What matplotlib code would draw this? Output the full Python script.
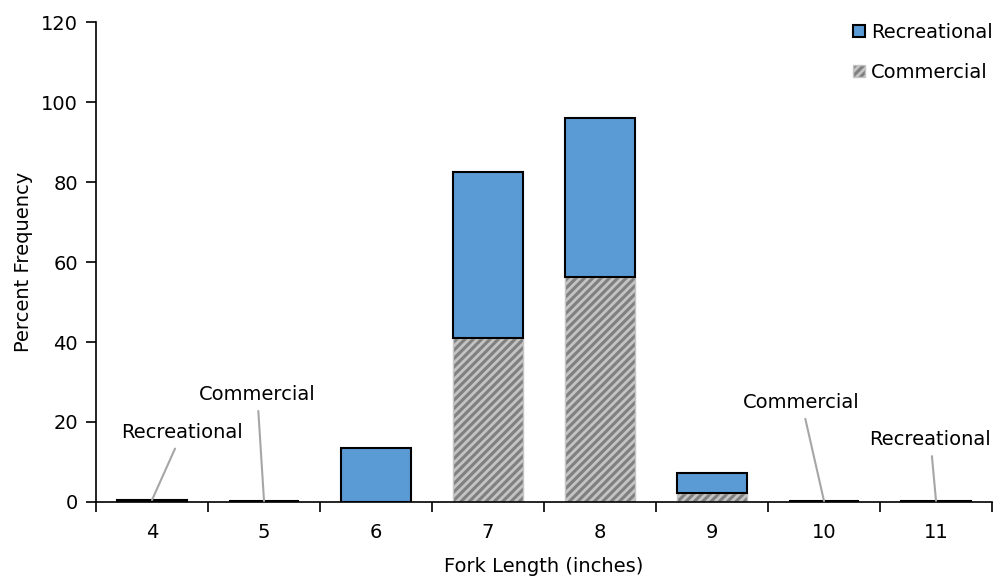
import matplotlib.pyplot as plt
import numpy as np

plt.rcParams['font.family'] = ['DejaVu Sans']
plt.rcParams['hatch.linewidth'] = 2.0

# data
lengths = ['4', '5', '6', '7', '8', '9', '10', '11']
commercial = [0.0, 0.25, 0.0, 41.0, 56.2, 2.3, 0.25, 0.0]
recreational = [0.5, 0.0, 13.5, 41.5, 39.8, 5.0, 0.0, 0.3]

fig = plt.figure(figsize=(9.98, 5.78), dpi=100)
ax = fig.add_axes([0.0962, 0.1315, 0.8978, 0.8304])

x = np.arange(len(lengths))
w = 0.625
ax.bar(x, commercial, w, color='#808080', edgecolor='#c4c4c4', hatch='////',
       linewidth=1.0, label='Commercial', zorder=2)
ax.bar(x, recreational, w, bottom=commercial, color='#5b9bd5', edgecolor='black',
       linewidth=1.5, label='Recreational', zorder=3)

ax.set_xlim(-0.5, len(lengths) - 0.5)
ax.set_ylim(0, 120)
ax.set_yticks(range(0, 121, 20))
ax.set_xticks(x)
ax.set_xticklabels(lengths)
ax.set_xticks(np.arange(-0.5, len(lengths)), minor=True)
ax.tick_params(axis='x', which='major', length=0, labelsize=14, pad=15)
ax.tick_params(axis='x', which='minor', length=7, width=1.2, direction='out')
ax.tick_params(axis='y', length=7, width=1.2, direction='out', labelsize=14, pad=6)
for s in ['top', 'right']:
    ax.spines[s].set_visible(False)
for s in ['left', 'bottom']:
    ax.spines[s].set_linewidth(1.2)

ax.set_xlabel('Fork Length (inches)', fontsize=14, labelpad=11)
ax.set_ylabel('Percent Frequency', fontsize=14, labelpad=6)

# callouts for tiny bars
callouts = [(0, recreational[0], 'Recreational', 0.27, 15.0),
            (1, commercial[1], 'Commercial', -0.06, 24.5),
            (6, commercial[6], 'Commercial', -0.2, 22.5),
            (7, recreational[7], 'Recreational', -0.05, 13.2)]
for xi, yi, txt, dx, ty in callouts:
    ax.annotate(txt, xy=(xi, yi), xytext=(xi + dx, ty), fontsize=14,
                ha='center', va='bottom',
                arrowprops=dict(arrowstyle='-', color='#a6a6a6', lw=1.5,
                                shrinkA=3, shrinkB=0))

h, l = ax.get_legend_handles_labels()
ax.legend(h[::-1], l[::-1], loc='upper right', bbox_to_anchor=(1.02, 1.035),
          frameon=False, fontsize=14, handlelength=0.6, handleheight=0.6,
          handletextpad=0.3, labelspacing=1.1)

fig.savefig('out.png', dpi=100)
